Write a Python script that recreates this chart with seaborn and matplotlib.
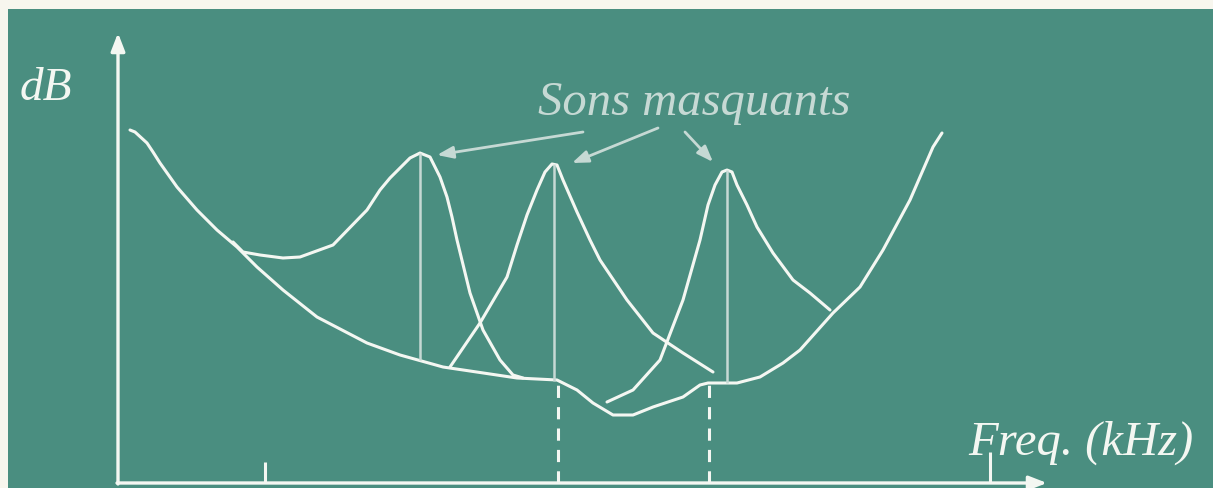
import matplotlib
matplotlib.use("Agg")
import matplotlib.pyplot as plt
import seaborn as sns

# Absolute hearing threshold (frequency position, level)
threshold_freq = [130, 135, 147, 153, 160, 177, 197, 217, 237, 257, 283, 317, 367, 400,
                  443, 517, 557, 577, 593, 613, 633, 653, 683, 700, 708, 737, 760,
                  783, 800, 833, 860, 883, 910, 933, 942]
threshold_level = [358, 356, 345, 336, 325, 301, 278, 258, 241, 221, 198, 171, 145, 133,
                   121, 110, 108, 98, 85, 73, 73, 81, 91, 103, 105, 105, 111,
                   125, 138, 175, 201, 238, 288, 341, 355]

# Masking curves around each masking tone
mask1_freq = [233, 243, 260, 283, 300, 333, 367, 380, 390, 400, 410, 420, 430, 440,
              447, 452, 457, 470, 483, 500, 513, 523]
mask1_level = [246, 236, 233, 230, 231, 243, 278, 298, 310, 320, 330, 335, 331, 311,
               291, 271, 248, 195, 158, 128, 113, 110]

mask2_freq = [450, 480, 507, 517, 527, 537, 545, 552, 557, 563, 577, 590, 600, 627,
              653, 683, 713]
mask2_level = [121, 165, 211, 243, 273, 298, 316, 324, 323, 308, 276, 248, 228, 188,
               155, 135, 116]

mask3_freq = [607, 633, 660, 683, 700, 708, 715, 722, 727, 732, 737, 747, 757, 773,
              793, 810, 830]
mask3_level = [86, 98, 128, 188, 248, 283, 303, 316, 318, 316, 303, 283, 261, 235,
               208, 195, 178]

# Masking tones: position, peak level, level where the tone line meets the threshold
tone_freq = [420, 554, 727]
tone_top = [335, 324, 318]
tone_base = [128, 107, 105]

# Dashed guides down to the frequency axis
guide_freq = [558, 709]
guide_top = [107, 105]

# Small tick marks on the frequency axis
tick_freq = [265, 990]
tick_top = [26, 36]

# Annotation arrows: label side -> tone peak
arrow_start = [(583, 356), (658, 360), (685, 356)]
arrow_end = [(437, 333), (572, 325), (713, 326)]

BG = "#4a8e80"
FRAME = "#f7f6ee"
LINE = "#f4f7f2"
SOFT = "#c6d9d4"

sns.set_theme(style="white")
plt.rcParams["font.family"] = ["Liberation Serif", "DejaVu Serif"]

fig = plt.figure(figsize=(12.13, 4.88), dpi=100)
fig.patch.set_facecolor(FRAME)
ax = fig.add_axes([8 / 1213, 0, 1205 / 1213, 479 / 488])
ax.set_facecolor(BG)
ax.set_xlim(8, 1213)
ax.set_ylim(0, 479)
ax.set_axis_off()
ax.add_patch(plt.Rectangle((8, 0), 1205, 479, facecolor=BG, edgecolor="none", zorder=0))

curve_kw = dict(estimator=None, sort=False, color=LINE, linewidth=2.2, ax=ax,
                legend=False, solid_joinstyle="round", solid_capstyle="round")
sns.lineplot(x=threshold_freq, y=threshold_level, **curve_kw)
sns.lineplot(x=mask1_freq, y=mask1_level, **curve_kw)
sns.lineplot(x=mask2_freq, y=mask2_level, **curve_kw)
sns.lineplot(x=mask3_freq, y=mask3_level, **curve_kw)

# Tone lines
ax.vlines(tone_freq, tone_base, tone_top, color=SOFT, linewidth=1.8)
# Dashed guides
ax.vlines(guide_freq, 5, guide_top, color=LINE, linewidth=2.2, linestyles=(0, (4, 3)))
# Axis ticks
ax.vlines(tick_freq, 5, tick_top, color=LINE, linewidth=2.2)

# Axes with arrow heads
axis_arrow = dict(arrowstyle="-|>,head_length=0.9,head_width=0.35", color=LINE,
                  linewidth=2.4, shrinkA=0, shrinkB=0)
ax.annotate("", xy=(118, 455), xytext=(118, 4), arrowprops=axis_arrow)
ax.annotate("", xy=(1047, 5), xytext=(117, 5), arrowprops=axis_arrow)

# Label arrows
label_arrow = dict(arrowstyle="-|>,head_length=0.8,head_width=0.3", color=SOFT,
                   linewidth=2.0, shrinkA=0, shrinkB=0)
for s, e in zip(arrow_start, arrow_end):
    ax.annotate("", xy=e, xytext=s, arrowprops=label_arrow)

ax.text(20, 388, "dB", fontsize=34, style="italic", color=LINE, ha="left", va="baseline")
ax.text(538, 373, "Sons masquants", fontsize=35, style="italic", color=SOFT,
        ha="left", va="baseline")
ax.text(968, 33, "Freq. (kHz)", fontsize=35, style="italic", color=LINE,
        ha="left", va="baseline")

fig.savefig("out.png", dpi=100, facecolor=FRAME)
